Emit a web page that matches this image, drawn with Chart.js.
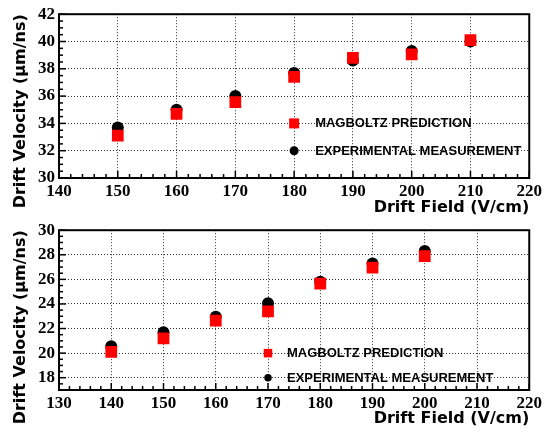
<!DOCTYPE html>
<html>
<head>
<meta charset="utf-8">
<script src="https://cdn.jsdelivr.net/npm/chart.js@4.4.1/dist/chart.umd.min.js"></script>
<style>
  body { margin: 0; background: #fff; }
  .panel { position: absolute; left: 0; width: 545px; height: 216px; }
  #top { top: 0; }
  #bottom { top: 216px; }
</style>
</head>
<body>
<div class="panel" id="top"><canvas id="chartTop" width="545" height="216"></canvas></div>
<div class="panel" id="bottom"><canvas id="chartBottom" width="545" height="216"></canvas></div>
<script>
// upper panel
const fieldTop = [150, 160, 170, 180, 190, 200, 210];
const magboltzTop = [33.1, 34.7, 35.55, 37.4, 38.8, 39.05, 40.1];
const measuredTop = [33.7, 35.0, 36.0, 37.7, 38.6, 39.3, 40.0];

// lower panel
const fieldBottom = [140, 150, 160, 170, 180, 190, 200];
const magboltzBottom = [20.1, 21.2, 22.65, 23.4, 25.65, 26.95, 27.9];
const measuredBottom = [20.55, 21.7, 22.95, 24.05, 25.8, 27.3, 28.3];

const seriesNames = ['MAGBOLTZ PREDICTION', 'EXPERIMENTAL MEASUREMENT'];
const xTitle = 'Drift Field (V/cm)';
const yTitle = 'Drift Velocity (\u03bcm/ns)';

const toPoints = (xs, ys) => xs.map((x, i) => ({ x: x, y: ys[i] }));

// ROOT style frame + inner tick marks
const frameTicks = {
    id: 'frameTicks',
    afterDatasetsDraw(chart) {
        const { ctx, chartArea: a, scales } = chart;
        ctx.save();
        ctx.strokeStyle = '#000';
        ctx.lineWidth = 1.5;
        scales.x.ticks.forEach(t => {
            const px = scales.x.getPixelForValue(t.value);
            const len = t.value % 10 === 0 ? 7 : 4;
            ctx.beginPath();
            ctx.moveTo(px, a.bottom);
            ctx.lineTo(px, a.bottom - len);
            ctx.stroke();
        });
        scales.y.ticks.forEach(t => {
            const py = scales.y.getPixelForValue(t.value);
            const len = t.value % 2 === 0 ? 7 : 4;
            ctx.beginPath();
            ctx.moveTo(a.left, py);
            ctx.lineTo(a.left + len, py);
            ctx.stroke();
        });
        ctx.lineWidth = 2;
        ctx.strokeRect(a.left, a.top, a.right - a.left, a.bottom - a.top);
        ctx.restore();
    }
};

// legend drawn inside the frame, anchored on data coordinates
const innerLegend = {
    id: 'innerLegend',
    afterDraw(chart, args, opts) {
        const { ctx, scales } = chart;
        const px = scales.x.getPixelForValue(opts.x);
        ctx.save();
        ctx.font = 'bold 13px "Liberation Sans"';
        ctx.textBaseline = 'middle';
        ctx.fillStyle = '#000';
        chart.data.datasets.forEach((ds, i) => {
            const py = scales.y.getPixelForValue(opts.ys[i]);
            ctx.fillStyle = ds.backgroundColor;
            if (ds.pointStyle === 'rect') {
                ctx.fillRect(px - opts.size / 2, py - opts.size / 2, opts.size, opts.size);
            } else {
                ctx.beginPath();
                ctx.arc(px, py, opts.size / 2 - 0.5, 0, Math.PI * 2);
                ctx.fill();
            }
            ctx.fillStyle = '#000';
            ctx.fillText(ds.label, px + opts.gap, py + 0.5);
        });
        ctx.restore();
    }
};

function makeChart(id, xs, mag, meas, cfg) {
    const tickFont = { family: 'Liberation Serif', weight: 'bold', size: 17 };
    const titleFont = { family: 'DejaVu Sans', weight: 'bold', size: 16, lineHeight: 1 };
    const gridColor = (major) => (c) => (c.tick && major(c.tick.value) ? '#333' : 'rgba(0,0,0,0)');

    return new Chart(document.getElementById(id), {
        type: 'scatter',
        data: {
            datasets: [
                {
                    label: seriesNames[0],
                    data: toPoints(xs, mag),
                    pointStyle: 'rect',
                    pointRadius: 8.3,
                    pointHoverRadius: 8.3,
                    backgroundColor: '#ff0000',
                    borderWidth: 0
                },
                {
                    label: seriesNames[1],
                    data: toPoints(xs, meas),
                    pointStyle: 'circle',
                    pointRadius: 6,
                    pointHoverRadius: 6,
                    backgroundColor: '#000000',
                    borderWidth: 0
                }
            ]
        },
        options: {
            responsive: false,
            animation: false,
            layout: { padding: { top: cfg.top, right: 14, left: 0, bottom: 0 } },
            plugins: {
                legend: { display: false },
                tooltip: { enabled: false },
                innerLegend: cfg.legend
            },
            scales: {
                x: {
                    type: 'linear',
                    min: cfg.xMin,
                    max: 220,
                    afterFit: (s) => { s.height = cfg.xHeight; },
                    ticks: {
                        stepSize: 2,
                        autoSkip: false,
                        maxRotation: 0,
                        padding: 3,
                        color: '#000',
                        font: tickFont,
                        callback: (v) => (v % 10 === 0 ? v : '')
                    },
                    grid: { color: gridColor(v => v % 10 === 0), lineWidth: 1, drawTicks: false },
                    border: { display: false, dash: [1, 2] },
                    title: {
                        display: true,
                        text: xTitle,
                        align: 'end',
                        color: '#000',
                        font: titleFont,
                        padding: { top: 0, bottom: cfg.xTitlePad }
                    }
                },
                y: {
                    type: 'linear',
                    min: cfg.yMin,
                    max: cfg.yMax,
                    afterFit: (s) => { s.width = 59; },
                    ticks: {
                        stepSize: 0.5,
                        autoSkip: false,
                        padding: 4,
                        color: '#000',
                        font: tickFont,
                        callback: (v) => (v % 2 === 0 ? v : '')
                    },
                    grid: { color: gridColor(v => v % 2 === 0), lineWidth: 1, drawTicks: false },
                    border: { display: false, dash: [1, 2] },
                    title: {
                        display: true,
                        text: yTitle,
                        align: 'end',
                        color: '#000',
                        font: titleFont,
                        padding: { top: 13, bottom: 0 }
                    }
                }
            }
        },
        plugins: [frameTicks, innerLegend]
    });
}

makeChart('chartTop', fieldTop, magboltzTop, measuredTop, {
    top: 13, xHeight: 38, xTitlePad: 0,
    xMin: 140, yMin: 30, yMax: 42,
    legend: { x: 180, ys: [34, 32], size: 10, gap: 21 }
});

makeChart('chartBottom', fieldBottom, magboltzBottom, measuredBottom, {
    top: 10, xHeight: 42, xTitlePad: 5,
    xMin: 130, yMin: 17, yMax: 30,
    legend: { x: 170, ys: [20, 18], size: 8.5, gap: 19 }
});
</script>
</body>
</html>
